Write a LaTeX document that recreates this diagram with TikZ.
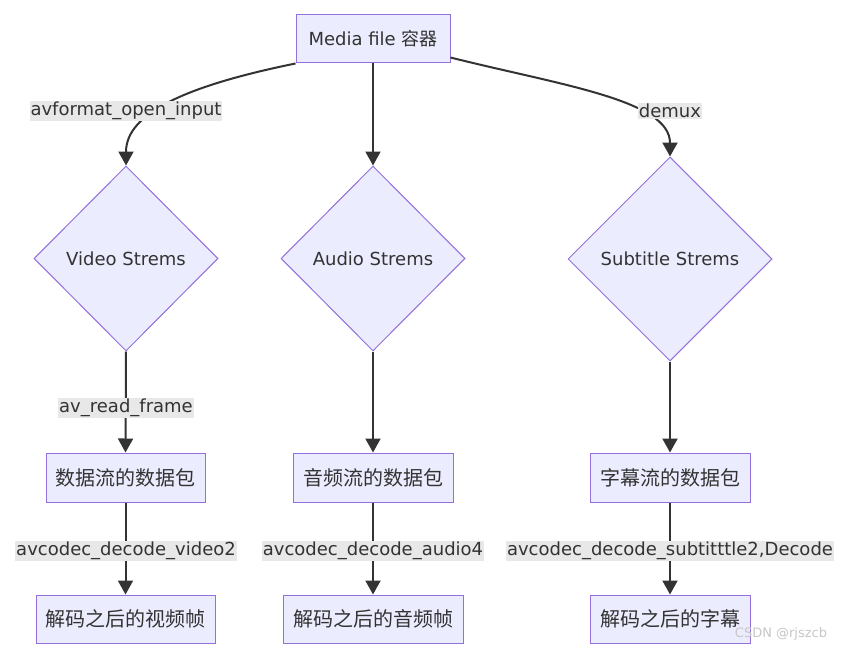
\documentclass[tikz,border=0pt]{standalone}
\usepackage{fontspec}
\setmainfont{DejaVu Sans}
\newfontfamily\cjk{Noto Sans CJK SC}
\usetikzlibrary{shapes.geometric,arrows.meta}
\definecolor{nodefill}{HTML}{ECECFF}
\definecolor{nodeline}{HTML}{9370DB}
\definecolor{edgecol}{HTML}{333333}
\definecolor{lblfill}{HTML}{E8E8E8}
\tikzset{
  box/.style={draw=nodeline,fill=nodefill,line width=1pt,rectangle,inner sep=0pt,text=edgecol},
  dia/.style={draw=nodeline,fill=nodefill,line width=1pt,diamond,inner sep=0pt,text=edgecol,aspect=1},
  lbl/.style={fill=lblfill,inner xsep=1pt,inner ysep=1pt,text=edgecol,font=\fontsize{18}{21}\selectfont},
  edge/.style={draw=edgecol,line width=2pt,-{Triangle[length=14pt,width=15pt]}},
  txt/.style={font=\fontsize{18}{21}\selectfont},
  cjktxt/.style={font=\fontsize{20}{24}\selectfont\cjk},
}
\begin{document}
\begin{tikzpicture}[x=1pt,y=-1pt]
\useasboundingbox[fill=white] (0,0) rectangle (842,650);
% nodes
\node[box,minimum width=154pt,minimum height=48pt,txt] (media) at (373,39) {Media file {\cjk 容器}};
\node[dia,minimum width=184pt,minimum height=185pt,txt] (video) at (126,258.5) {Video Strems};
\node[dia,minimum width=184pt,minimum height=185pt,txt] (audio) at (373,258.5) {Audio Strems};
\node[dia,minimum width=204pt,minimum height=204pt,txt] (sub) at (670,259) {Subtitle Strems};
\node[box,minimum width=159pt,minimum height=49pt,cjktxt] (vpkt) at (125.5,477.5) {数据流的数据包};
\node[box,minimum width=160pt,minimum height=49pt,cjktxt] (apkt) at (373,477.5) {音频流的数据包};
\node[box,minimum width=160pt,minimum height=49pt,cjktxt] (spkt) at (670,477.5) {字幕流的数据包};
\node[box,minimum width=179pt,minimum height=48pt,cjktxt] (vfrm) at (125.5,619) {解码之后的视频帧};
\node[box,minimum width=180pt,minimum height=48pt,cjktxt] (afrm) at (373,619) {解码之后的音频帧};
\node[box,minimum width=160pt,minimum height=48pt,cjktxt] (sfrm) at (670,619) {解码之后的字幕};
% edges
\draw[edge] (media.south west) .. controls (190,85) and (126,112) .. (video.north);
\draw[edge] (media.south) -- (audio.north);
\draw[edge] ([yshift=6pt]media.south east) .. controls (560,85) and (670,100) .. (sub.north);
\draw[edge] (video.south) -- (vpkt.north);
\draw[edge] (audio.south) -- (apkt.north);
\draw[edge] (sub.south) -- (spkt.north);
\draw[edge] (vpkt.south) -- (vfrm.north);
\draw[edge] (apkt.south) -- (afrm.north);
\draw[edge] (spkt.south) -- (sfrm.north);
% labels
\node[lbl] (l1) at (126,111) {avformat\_open\_input};
\node[lbl] (l2) at (670,111) {demux};
\node[lbl] (l3) at (126,408) {av\_read\_frame};
\node[lbl] (l4) at (126,551) {avcodec\_decode\_video2};
\node[lbl] (l5) at (373,551) {avcodec\_decode\_audio4};
\node[lbl] (l6) at (670,551) {avcodec\_decode\_subtitttle2,Decode};
% watermark
\node[text=black!22,font=\fontsize{13}{15}\selectfont] (wm) at (781,634) {CSDN @rjszcb};
\end{tikzpicture}
\end{document}
